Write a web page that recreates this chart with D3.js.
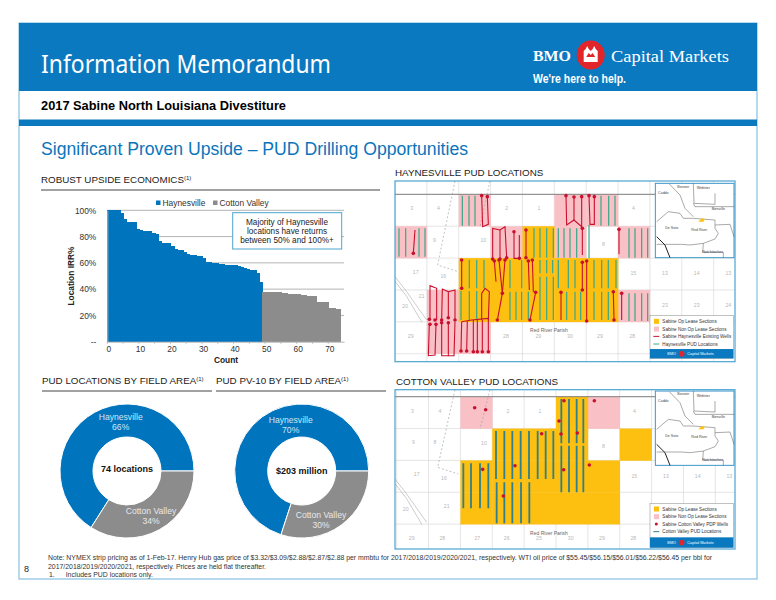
<!DOCTYPE html>
<html>
<head>
<meta charset="utf-8">
<script src="https://d3js.org/d3.v7.min.js"></script>
<style>
  html, body { margin: 0; padding: 0; background: #fff; }
  svg { display: block; }
  text { font-family: "Liberation Sans", Arial, sans-serif; }
  .axis path, .axis line { stroke: #b5b5b5; }
  .axis text { font-family: "Liberation Sans", Arial, sans-serif; fill: #333; font-size: 8.4px; }
</style>
</head>
<body>
<svg id="page" width="776" height="600"></svg>
<script>
// Chart values
const fieldNames = ["Haynesville", "Cotton Valley"];
const haynesvilleIrr = [100,100,100,100,98,93,91,91,91,85.5,85,84.5,84.5,84,83,82,77,75,75,75,73,70.5,70,69.5,68,66.5,66,66,65.5,65,63.5,61,60.5,60,60,59.5,59,58.5,58,58,58,57.5,57,56,55,54.5,54.5,52,45.5];
const cottonValleyIrr = [38,38,38,38,37.5,37.5,37,37,36.5,36,36,36,35.5,35.5,35,35,34.5,30.5,30.5,30,30,25.5,25.5,25,25];
const irrTicks = [0, 20, 40, 60, 80, 100];
const countTicks = [0, 10, 20, 30, 40, 50, 60, 70];
const locationShares = [66, 34];
const pv10Shares = [70, 30];
const noteLines = [
  "Note: NYMEX strip pricing as of 1-Feb-17. Henry Hub gas price of $3.32/$3.09/$2.88/$2.87/$2.88 per mmbtu for 2017/2018/2019/2020/2021, respectively. WTI oil price of $55.45/$56.15/$56.01/$56.22/$56.45 per bbl for",
  "2017/2018/2019/2020/2021, respectively. Prices are held flat thereafter."
];

// Map data, [col, row] for lease sections
const haynOpSections = [[4,1],[2,2],[3,2],[4,2],[5,2],[6,2],[2,3],[3,3],[4,3],[5,3],[6,3]];
const haynNonOpSections = [[2,0],[5,0],[6,0],[0,1],[3,1],[5,1],[7,1],[7,3],[1,3],[1,4],[2,4]];
const cottonOpSections = [[5,0],[3,1],[4,1],[5,1],[7,1],[2,2],[3,2],[4,2],[5,2],[6,2],[2,3],[3,3],[4,3],[5,3],[6,3]];
const cottonNonOpSections = [[2,0],[6,0]];
// PUD lines: x, top, bottom in map units
const haynPuds = [
  [217,92,182],[237,92,182],[255,92,182],[633,92,182],[656,92,182],[675,92,182],
  [27,190,275],[47,190,275],[87,190,275],[105,190,275],[432,190,278],[450,190,278],[470,190,278],[490,190,278],
  [505,190,278],[522,190,278],[540,190,278],[560,190,278],[597,180,280],[717,190,278],[735,190,278],[755,190,278],[773,190,278],
  [238,285,370],[260,285,370],[282,285,370],[360,285,370],[395,285,370],[450,285,325],[470,285,325],[488,285,325],
  [505,285,370],[535,285,370],[555,285,370],[612,285,370],[635,285,370],[655,285,370],[678,285,370],
  [213,378,465],[238,378,465],[260,378,465],[360,380,465],[378,380,465],[395,380,465],[415,380,465],
  [450,335,465],[470,335,465],[490,335,465],[530,380,465],[555,380,465],[572,380,465],[612,380,465],[635,380,465],[655,380,465],
  [717,385,468],[735,385,468],[755,385,468],[773,385,468]
];
const cottonPuds = [
  [514,72,205],[537,72,205],[560,72,205],[580,72,205],
  [318,168,312],[343,168,312],[367,168,312],[392,168,312],[417,168,312],[443,168,312],[467,168,312],[490,168,312],
  [514,212,352],[537,212,352],[560,212,352],[580,212,352],
  [220,265,400],[243,265,400],[270,265,400],[295,265,400],
  [320,322,445],[343,322,445],[367,322,445],[393,322,445],[418,322,445]
];
// Existing wells: paths in map units
const haynWells = [
  [[275,92],[278,185],[295,178],[292,95]],
  [[528,92],[530,180],[552,165],[575,185],[575,95]],
  [[552,96],[552,165]],
  [[597,92],[600,178],[613,178],[613,95]],
  [[577,190],[577,270]],[[687,193],[687,268]],[[75,195],[70,265]],
  [[308,282],[308,190],[330,195],[345,185],[350,278]],[[330,195],[330,282]],
  [[372,200],[372,280],[388,280],[388,210]],[[408,195],[408,278]],
  [[215,285],[215,370]],[[313,288],[318,350]],[[327,285],[337,385]],[[345,285],[337,385]],
  [[415,288],[418,375]],[[427,285],[430,380]],[[337,385],[322,465]],[[437,382],[420,465]],
  [[577,292],[577,375]],[[590,288],[590,468]],[[513,382],[513,465]],[[670,380],[672,465]],[[695,385],[695,465]],
  [[275,465],[275,385],[285,370],[298,380],[295,465]],[[215,470],[245,465],[295,460]],
  [[120,465],[120,362],[140,370],[140,465]],[[155,465],[157,372],[175,380],[175,458]],[[175,380],[195,375],[195,465]],
  [[118,478],[115,572],[135,570],[138,478]],[[155,473],[155,572],[175,572],[175,473]],[[195,470],[192,572],[175,572]],
  [[215,470],[213,558]],[[232,468],[230,558]],[[250,465],[250,560]],[[262,465],[262,560]],[[277,465],[277,560]],[[295,460],[295,560]]
];
const haynWellDots = [
  [275,92],[292,95],[528,92],[552,96],[575,95],[597,92],[613,95],[577,190],[687,193],[70,265],
  [308,282],[330,282],[350,278],[372,200],[388,280],[408,195],[408,278],[215,285],[215,370],
  [313,288],[327,285],[345,285],[415,288],[427,285],[337,385],[322,465],[437,382],[420,465],
  [577,292],[577,375],[590,288],[590,468],[513,382],[670,380],[672,465],[695,385],
  [118,463],[135,465],[155,465],[175,458],[195,465],[120,478],[138,478],[155,473],[175,473],
  [213,558],[230,558],[250,560],[262,560],[277,560],[295,560]
];
const cottonWellDots = [[254,98],[287,104],[522,77],[613,77],[507,138],[455,176],[513,177],[562,174],[278,283],[375,272],[521,284],[598,270],[340,363]];
// Section numbers [label, x, y]
const haynLabels = [["3",65,135],["4",145,135],["2",350,135],["1",447,135],["4",730,135],["9",133,232],["10",280,232],["8",640,243],
  ["17",77,327],["16",160,340],["15",730,330],["13",825,330],["14",920,330],["13",1015,330],["20",45,430],["21",95,400],
  ["23",825,425],["23",920,425],["24",1015,425],["29",62,518],["28",348,518],["29",445,518],["30",540,518],["29",630,518],["28",727,518]];
const cottonLabels = [["3",67,113],["4",150,113],["2",354,113],["1",450,113],["4",733,113],["9",70,207],["8",135,208],["10",282,210],["8",640,220],
  ["17",80,302],["16",162,316],["15",733,308],["13",828,308],["14",923,308],["13",1018,308],["20",47,407],["21",170,398],["23",1018,402],
  ["29",65,495],["28",157,495],["27",262,495],["26",350,495],["25",447,495],["30",542,495],["29",636,495],["28",730,495]];
const insetLines = [
  [[838,57],[870,90],[885,130],[910,155]],
  [[910,55],[912,115],[975,118],[975,85]],
  [[910,115],[915,125],[1032,125]],
  [[800,170],[835,140],[870,145],[880,160],[910,160],[975,165],[975,190],[985,205],[975,222],[940,235],[900,240],[875,238],[800,238]],
  [[975,180],[1020,178],[1032,215]],
  [[940,235],[938,262],[1000,262],[1000,278]]
];
const insetRiver = [[800,215],[825,240],[840,278]];
const insetBlob = [[925,170],[935,160],[945,162],[940,170]];
const insetLabels = [["Caddo",820,88],["Bossier",880,68],["Webster",940,72],["Bienville",985,135],["De Soto",845,192],["Red River",928,197],["Natchitoches",968,265]];
// crown in the logo, outline in logo units
const logoCrown = [[0,16],[0,5],[2,3],[3.5,0],[5,3],[7,5],[9,3],[10.5,0],[12,3],[14,5],[14,16]];
const logoNotch = [[2.5,11],[5,7],[7,9],[9,7],[11.5,11]];

const BLUE = "#0075be", GREY = "#8c8c8c", FRAME = "#4ba3d3", YELLOW = "#fdc010", PINK = "#f9c1c6", RED = "#c9102e";
const svg = d3.select("#page");

// page frame + header
svg.append("rect").attr("x", 19).attr("y", 23).attr("width", 738).attr("height", 556)
  .attr("fill", "#fff").attr("stroke", "#6fb3da").attr("stroke-width", 1);
svg.append("rect").attr("x", 19).attr("y", 23).attr("width", 738).attr("height", 68).attr("fill", "#0b79bf");
svg.append("rect").attr("x", 19).attr("y", 119.5).attr("width", 738).attr("height", 6.5).attr("fill", "#0b79bf");
svg.append("text").attr("x", 41).attr("y", 72.5).attr("fill", "#fff")
  .attr("textLength", 290).attr("lengthAdjust", "spacingAndGlyphs")
  .style("font-family", "'Noto Sans'").style("font-size", "26px").text("Information Memorandum");
svg.append("text").attr("x", 533).attr("y", 60.5).attr("fill", "#fff").attr("textLength", 38).attr("lengthAdjust", "spacingAndGlyphs")
  .style("font-family", "'Liberation Serif'").style("font-weight", "bold").style("font-size", "14px").text("BMO");
svg.append("ellipse").attr("cx", 590.7).attr("cy", 55).attr("rx", 14).attr("ry", 14.5).attr("fill", "#e2252b");
var crown = svg.append("g").attr("transform", "translate(583.7,46)");
crown.append("path").attr("d", d3.line()(logoCrown)).attr("fill", "#fff");
crown.append("path").attr("d", d3.line()(logoNotch)).attr("fill", "#e2252b");
svg.append("text").attr("x", 611).attr("y", 61.5).attr("fill", "#fff").attr("textLength", 118).attr("lengthAdjust", "spacingAndGlyphs")
  .style("font-family", "'Liberation Serif'").style("font-size", "16.5px").text("Capital Markets");
svg.append("text").attr("x", 533).attr("y", 83).attr("fill", "#fff").attr("textLength", 93).attr("lengthAdjust", "spacingAndGlyphs")
  .style("font-size", "12px").style("font-weight", "bold").text("We're here to help.");
svg.append("text").attr("x", 41).attr("y", 110).attr("fill", "#000").attr("textLength", 245).attr("lengthAdjust", "spacingAndGlyphs")
  .style("font-size", "12.4px").style("font-weight", "bold").text("2017 Sabine North Louisiana Divestiture");
svg.append("text").attr("x", 41).attr("y", 155).attr("fill", "#0a75bb").attr("textLength", 427).attr("lengthAdjust", "spacingAndGlyphs")
  .style("font-size", "18px").text("Significant Proven Upside \u2013 PUD Drilling Opportunities");

function section_title(label, x, y, lineTo, sup){
  var t = svg.append("text").attr("x", x).attr("y", y).attr("fill", "#222").style("font-size", "9.8px").text(label);
  if (sup) {
    t.append("tspan").attr("dy", -3).style("font-size", "6px").text("(1)");
    svg.append("line").attr("x1", x).attr("x2", lineTo).attr("y1", y + 7).attr("y2", y + 7)
      .attr("stroke", "#444").attr("stroke-width", 1);
  }
}
section_title("ROBUST UPSIDE ECONOMICS", 41, 183, 380, true);
section_title("PUD LOCATIONS BY FIELD AREA", 42, 384, 212, true);
section_title("PUD PV-10 BY FIELD AREA", 216, 384, 386, true);
section_title("HAYNESVILLE PUD LOCATIONS", 395, 176, 0, false);
section_title("COTTON VALLEY PUD LOCATIONS", 396, 385, 0, false);

// Bar chart
var allIrr = haynesvilleIrr.concat(cottonValleyIrr);
var xBand = d3.scaleBand().domain(d3.range(allIrr.length + 1)).range([107.3, 344]);
var yIrr = d3.scaleLinear().domain([0, 100]).range([341.7, 210.3]);
var bars = svg.append("g").attr("shape-rendering", "crispEdges");

svg.insert("g", "g").attr("class", "axis")
  .selectAll("line").data(irrTicks.slice(1)).join("line")
  .attr("x1", xBand.range()[0]).attr("x2", xBand.range()[1])
  .attr("y1", function(d){ return yIrr(d); }).attr("y2", function(d){ return yIrr(d); })
  .attr("stroke", "#bdbdbd");

// bars touch, so each one runs a little under the next to avoid seams
bars.selectAll("rect").data(allIrr).join("rect")
  .attr("x", function(d, i){ return xBand(i); })
  .attr("y", function(d){ return yIrr(d); })
  .attr("width", function(d, i){ return xBand.bandwidth() + (i == allIrr.length - 1 ? 0 : 1); })
  .attr("height", function(d){ return yIrr(0) - yIrr(d); })
  .attr("fill", function(d, i){ return i < haynesvilleIrr.length ? BLUE : GREY; });

var yAxis = d3.axisLeft(yIrr).tickValues(irrTicks).tickSize(0).tickPadding(11)
  .tickFormat(function(d){ return d == 0 ? "--" : d + "%"; });
var yG = svg.append("g").attr("class", "axis").attr("transform", "translate(107.3,0)").call(yAxis);
yG.select(".domain").attr("stroke", "#b5b5b5");

var xAxis = d3.axisBottom(xBand).tickValues(countTicks).tickSize(0).tickPadding(4);
var xG = svg.append("g").attr("class", "axis").attr("transform", "translate(0,341.7)").call(xAxis);
// minor ticks every 5 counts sit on the bar edges
xG.selectAll(".minor").data(d3.range(0, allIrr.length + 1, 5)).join("line").attr("class", "minor")
  .attr("x1", function(d){ return xBand(d); }).attr("x2", function(d){ return xBand(d); })
  .attr("y1", 0).attr("y2", 2);

svg.append("text").attr("transform", "translate(74,276) rotate(-90)").attr("text-anchor", "middle")
  .style("font-size", "8.4px").style("font-weight", "bold").attr("fill", "#222").text("Location IRR%");
svg.append("text").attr("x", 226).attr("y", 363).attr("text-anchor", "middle")
  .style("font-size", "8.4px").style("font-weight", "bold").attr("fill", "#222").text("Count");

// legend above the bars
var legendX = [156, 213];
fieldNames.forEach(function(name, i){
  svg.append("rect").attr("x", legendX[i]).attr("y", 200.5).attr("width", 4.5).attr("height", 4.5).attr("fill", i == 0 ? BLUE : GREY);
  svg.append("text").attr("x", legendX[i] + 6.5).attr("y", 206).style("font-size", "8.4px").attr("fill", "#333").text(name);
});

// callout
svg.append("rect").attr("x", 232.7).attr("y", 212.7).attr("width", 109).attr("height", 36.3)
  .attr("fill", "#fff").attr("stroke", FRAME).attr("stroke-width", 1);
["Majority of Haynesville", "locations have returns", "between 50% and 100%+"].forEach(function(s, i){
  svg.append("text").attr("x", 287).attr("y", 225 + i * 9.2).attr("text-anchor", "middle")
    .style("font-size", "8.2px").attr("fill", "#222").text(s);
});

// Donuts
function draw_donut(shares, cx, centre, labelPos, centreY){
  var start = Math.PI / 2 + 2 * Math.PI * shares[1] / 100;
  var pie = d3.pie().sort(null).startAngle(start).endAngle(start + 2 * Math.PI);
  var arc = d3.arc().innerRadius(34).outerRadius(67);
  var g = svg.append("g").attr("transform", "translate(" + cx + ",471)");
  g.selectAll("path").data(pie(shares)).join("path")
    .attr("d", arc)
    .attr("fill", function(d, i){ return i == 0 ? BLUE : GREY; })
    .attr("stroke", "#fff").attr("stroke-width", 1);
  fieldNames.forEach(function(name, i){
    var lx = labelPos[i][0], ly = labelPos[i][1];
    svg.append("text").attr("x", lx).attr("y", ly).attr("text-anchor", "middle").style("font-size", "8.6px")
      .attr("fill", i == 0 ? "#cfe6f5" : "#e8e8e8").text(name);
    svg.append("text").attr("x", lx).attr("y", ly + 10).attr("text-anchor", "middle").style("font-size", "8.6px")
      .attr("fill", i == 0 ? "#cfe6f5" : "#e8e8e8").text(shares[i] + "%");
  });
  svg.append("text").attr("x", cx).attr("y", centreY).attr("text-anchor", "middle")
    .style("font-size", "9px").style("font-weight", "bold").attr("fill", "#111").text(centre);
}
draw_donut(locationShares, 127, "74 locations", [[120.7, 420], [151, 513.5]], 472);
draw_donut(pv10Shares, 301.7, "$203 million", [[290.7, 423], [321, 517.5]], 474);

// Maps
function draw_map(m){
  var mapX = d3.scaleLinear().domain([15, 1035]).range([395, 735]);
  var mapY = d3.scaleLinear().domain([m.top, m.bottom]).range([m.y0, m.y1]);
  var line = d3.line().x(function(d){ return mapX(d[0]); }).y(function(d){ return mapY(d[1]); });
  var g = svg.append("g").attr("clip-path", "url(#" + m.id + ")");
  svg.append("clipPath").attr("id", m.id).append("rect")
    .attr("x", mapX(15)).attr("y", m.y0).attr("width", 340).attr("height", m.y1 - m.y0);

  function colX(c){ return mapX(m.col0 + c * 95.6); }
  function rowY(r){ return mapY(m.row0 + r * 95.6); }
  g.append("g").selectAll("line").data(d3.range(0, 11)).join("line")
    .attr("x1", colX).attr("x2", colX).attr("y1", m.y0).attr("y2", m.y1).attr("stroke", "#d4d4d4").attr("stroke-width", 0.6);
  g.append("g").selectAll("line").data(d3.range(0, 6)).join("line")
    .attr("y1", rowY).attr("y2", rowY).attr("x1", 395).attr("x2", 735).attr("stroke", "#d4d4d4").attr("stroke-width", 0.6);

  function sections(list, fill){
    g.append("g").selectAll("rect").data(list).join("rect")
      .attr("x", function(d){ return colX(d[0]); }).attr("y", function(d){ return rowY(d[1]); })
      .attr("width", colX(1) - colX(0) + 0.3).attr("height", rowY(1) - rowY(0) + 0.3).attr("fill", fill);
  }
  sections(m.nonOp, PINK);
  sections(m.op, YELLOW);

  // road, parish line and river
  g.append("path").attr("d", line([[15, m.row0], [1035, m.row0]])).attr("stroke", "#777").attr("stroke-width", 0.9).attr("fill", "none");
  g.append("path").attr("d", line([[195, m.top], [143, m.row0 + 212], [205, m.row0 + 232]])).attr("stroke", "#999").attr("stroke-dasharray", "2,2").attr("stroke-width", 0.6).attr("fill", "none");
  g.append("path").attr("d", line([[300, m.top], [270, m.row0 + 97]])).attr("stroke", "#999").attr("stroke-dasharray", "2,2").attr("stroke-width", 0.6).attr("fill", "none");
  [0, 14].forEach(function(dy){
    g.append("path").attr("d", line([[15, m.row0 + 247 + dy], [50, m.row0 + 292 + dy], [110 - dy, m.row0 + 377 + dy / 2]]))
      .attr("stroke", "#aaa").attr("stroke-width", 0.6).attr("fill", "none");
  });

  g.append("g").selectAll("text").data(m.labels).join("text")
    .attr("x", function(d){ return mapX(d[1]); }).attr("y", function(d){ return mapY(d[2]); })
    .attr("text-anchor", "middle").style("font-size", "5.2px").attr("fill", "#b8b8b8")
    .text(function(d){ return d[0]; });
  g.append("text").attr("x", mapX(477)).attr("y", mapY(m.parishY)).attr("text-anchor", "middle")
    .style("font-size", "5px").attr("fill", "#666").text("Red River Parish");

  g.append("g").selectAll("line").data(m.puds).join("line")
    .attr("x1", function(d){ return mapX(d[0]); }).attr("x2", function(d){ return mapX(d[0]); })
    .attr("y1", function(d){ return mapY(d[1]); }).attr("y2", function(d){ return mapY(d[2]); })
    .attr("stroke", m.pudColor).attr("stroke-width", m.pudWidth);
  g.append("g").selectAll("path").data(m.wells).join("path")
    .attr("d", line).attr("fill", "none").attr("stroke", RED).attr("stroke-width", 1.1);
  g.append("g").selectAll("circle").data(m.dots).join("circle")
    .attr("cx", function(d){ return mapX(d[0]); }).attr("cy", function(d){ return mapY(d[1]); })
    .attr("r", 1.8).attr("fill", RED);

  // inset locator
  var sh = m.insetShift;
  var inset = g.append("g").attr("transform", "translate(0," + (mapY(sh) - mapY(0)) + ")");
  inset.append("rect").attr("x", mapX(796)).attr("y", mapY(55)).attr("width", mapX(1032) - mapX(796)).attr("height", mapY(278) - mapY(55))
    .attr("fill", "#fff").attr("stroke", "#3c95c9").attr("stroke-width", 1);
  inset.selectAll(".par").data(insetLines).join("path").attr("class", "par")
    .attr("d", line).attr("fill", "none").attr("stroke", "#555").attr("stroke-width", 0.5);
  inset.append("path").attr("d", line(insetRiver)).attr("fill", "none").attr("stroke", "#222").attr("stroke-width", 1);
  inset.append("path").attr("d", line(insetBlob)).attr("fill", YELLOW);
  inset.selectAll("text").data(insetLabels).join("text")
    .attr("x", function(d){ return mapX(d[1]); }).attr("y", function(d){ return mapY(d[2]); })
    .attr("text-anchor", "middle").style("font-size", "3.6px").attr("fill", "#444")
    .text(function(d){ return d[0]; });

  // map legend
  var L = m.legend;
  g.append("rect").attr("x", mapX(780)).attr("y", mapY(L.top)).attr("width", mapX(1030) - mapX(780)).attr("height", mapY(L.bottom) - mapY(L.top))
    .attr("fill", "#fff").attr("stroke", "#999").attr("stroke-width", 0.6);
  g.append("rect").attr("x", mapX(780)).attr("y", mapY(L.bar)).attr("width", mapX(1030) - mapX(780)).attr("height", mapY(L.bottom) - mapY(L.bar)).attr("fill", "#0b79bf");
  g.append("ellipse").attr("cx", mapX(875)).attr("cy", mapY((L.bar + L.bottom) / 2)).attr("rx", 2.8).attr("ry", 2.8).attr("fill", "#e2252b");
  g.append("text").attr("x", mapX(858)).attr("y", mapY((L.bar + L.bottom) / 2) + 1.4).attr("text-anchor", "end").attr("fill", "#fff").style("font-size", "3.8px").text("BMO");
  g.append("text").attr("x", mapX(892)).attr("y", mapY((L.bar + L.bottom) / 2) + 1.4).attr("fill", "#fff").style("font-size", "3.8px").text("Capital Markets");
  L.items.forEach(function(it, i){
    var y = mapY(L.rows[i]);
    if (it.kind == "box") g.append("rect").attr("x", mapX(792)).attr("y", y - 2.5).attr("width", 5).attr("height", 5).attr("fill", it.color);
    if (it.kind == "line") g.append("line").attr("x1", mapX(790)).attr("x2", mapX(808)).attr("y1", y).attr("y2", y).attr("stroke", it.color).attr("stroke-width", 1);
    if (it.kind == "dot") g.append("circle").attr("cx", mapX(799)).attr("cy", y).attr("r", 1.5).attr("fill", it.color);
    g.append("text").attr("x", mapX(817)).attr("y", y + 1.6).style("font-size", "4.6px").attr("fill", "#333").text(it.name);
  });

  svg.append("rect").attr("x", 395).attr("y", m.y0).attr("width", 340).attr("height", m.y1 - m.y0)
    .attr("fill", "none").attr("stroke", FRAME).attr("stroke-width", 1.2);
}

draw_map({
  id: "mapH", top: 48, bottom: 590, y0: 181, y1: 361.7, col0: 15, row0: 88,
  op: haynOpSections, nonOp: haynNonOpSections, puds: haynPuds, pudColor: "#3ea88a", pudWidth: 1.25,
  wells: haynWells, dots: haynWellDots, labels: haynLabels, parishY: 502, insetShift: 0,
  legend: { top: 452, bar: 552, bottom: 580, rows: [469, 492, 514, 537], items: [
    { kind: "box", color: YELLOW, name: "Sabine Op Lease Sections" },
    { kind: "box", color: PINK, name: "Sabine Non Op Lease Sections" },
    { kind: "line", color: RED, name: "Sabine Haynesville Existing Wells" },
    { kind: "line", color: "#3ea88a", name: "Haynesville PUD Locations" }
  ]}
});
draw_map({
  id: "mapC", top: 44, bottom: 522, y0: 389.7, y1: 549, col0: 20, row0: 65,
  op: cottonOpSections, nonOp: cottonNonOpSections, puds: cottonPuds, pudColor: "#2f7f8c", pudWidth: 1.8,
  wells: [], dots: cottonWellDots, labels: cottonLabels, parishY: 480, insetShift: -7,
  legend: { top: 385, bar: 487, bottom: 518, rows: [402, 425, 447, 470], items: [
    { kind: "box", color: YELLOW, name: "Sabine Op Lease Sections" },
    { kind: "box", color: PINK, name: "Sabine Non Op Lease Sections" },
    { kind: "dot", color: RED, name: "Sabine Cotton Valley PDP Wells" },
    { kind: "line", color: "#2f7f8c", name: "Cotton Valley PUD Locations" }
  ]}
});

// footnotes
svg.append("text").attr("x", 24).attr("y", 572).style("font-size", "9px").attr("fill", "#222").text("8");
svg.append("text").attr("x", 48).attr("y", 560).attr("textLength", 664).attr("lengthAdjust", "spacingAndGlyphs")
  .style("font-size", "6.9px").attr("fill", "#333").text(noteLines[0]);
svg.append("text").attr("x", 48).attr("y", 568.7).attr("textLength", 218).attr("lengthAdjust", "spacingAndGlyphs")
  .style("font-size", "6.9px").attr("fill", "#333").text(noteLines[1]);
svg.append("text").attr("x", 49).attr("y", 577.4).style("font-size", "6.9px").attr("fill", "#333").text("1.");
svg.append("text").attr("x", 65.7).attr("y", 577.4).style("font-size", "6.9px").attr("fill", "#333").text("Includes PUD locations only.");
</script>
</body>
</html>
